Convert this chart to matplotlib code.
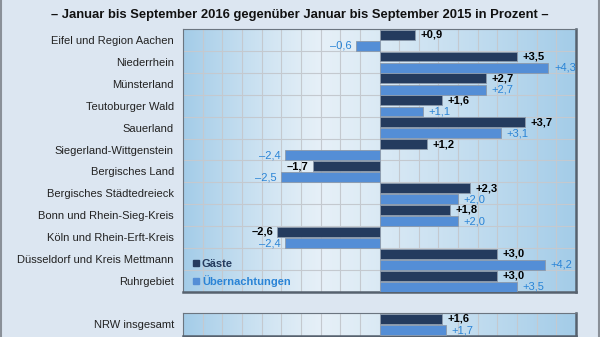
import numpy as np
import matplotlib
matplotlib.use("Agg")
import matplotlib.pyplot as plt
from matplotlib.lines import Line2D

# Daten: Veränderung in % (Jan-Sep 2016 ggü. Jan-Sep 2015)
regionen = ["Eifel und Region Aachen", "Niederrhein", "Münsterland", "Teutoburger Wald",
            "Sauerland", "Siegerland-Wittgenstein", "Bergisches Land",
            "Bergisches Städtedreieck", "Bonn und Rhein-Sieg-Kreis",
            "Köln und Rhein-Erft-Kreis", "Düsseldorf und Kreis Mettmann", "Ruhrgebiet"]
gaeste = [0.9, 3.5, 2.7, 1.6, 3.7, 1.2, -1.7, 2.3, 1.8, -2.6, 3.0, 3.0]
uebernachtungen = [-0.6, 4.3, 2.7, 1.1, 3.1, -2.4, -2.5, 2.0, 2.0, -2.4, 4.2, 3.5]

nrw_regionen = ["NRW insgesamt"]
nrw_gaeste = [1.6]
nrw_uebernachtungen = [1.7]

serien = ["Gäste", "Übernachtungen"]
titel = "– Januar bis September 2016 gegenüber Januar bis September 2015 in Prozent –"

plt.rcParams['font.family'] = ['Liberation Sans', 'DejaVu Sans']

dunkel = "#243b5e"
hell = "#548ed6"
hell_text = "#2a84d6"
rand = "#8c9aab"
hg = "#dce6f1"


def fmt(v):
    s = f"{abs(v):.1f}".replace(".", ",")
    return ("+" if v >= 0 else "–") + s


def hintergrund(ax, y0, y1):
    # Verlauf: hell in der Mitte, blau an den Rändern
    xs = np.linspace(-5, 5, 400)
    xc = -1.5
    t = np.where(xs < xc, (xc - xs) / (xc + 5), (xs - xc) / (5 - xc))
    t = np.clip(t, 0, 1) ** 1.2
    mitte = np.array([0.90, 0.94, 0.97])
    aussen = np.array([0.64, 0.80, 0.91])
    img = mitte[None, None, :] * (1 - t[None, :, None]) + aussen[None, None, :] * t[None, :, None]
    ax.imshow(img, extent=(-5, 5, y0, y1), aspect='auto', zorder=0, interpolation='bilinear')


def zeichne(ax, namen, g, u):
    n = len(namen)
    y = np.arange(n)
    hintergrund(ax, n - 0.5, -0.5)
    ax.barh(y - 0.245, g, height=0.45, color=dunkel, edgecolor=rand, linewidth=0.6, zorder=3)
    ax.barh(y + 0.265, u, height=0.45, color=hell, edgecolor=rand, linewidth=0.6, zorder=3)
    for yi, v in zip(y, g):
        ax.annotate(fmt(v), (v, yi - 0.245), xytext=(4 if v >= 0 else -3, 0),
                    textcoords='offset points', ha='left' if v >= 0 else 'right',
                    va='center', fontsize=8, fontweight='bold', color='black', zorder=4)
    for yi, v in zip(y, u):
        ax.annotate(fmt(v), (v, yi + 0.265), xytext=(4 if v >= 0 else -3, 0),
                    textcoords='offset points', ha='left' if v >= 0 else 'right',
                    va='center', fontsize=8, color=hell_text, zorder=4)
    ax.set_xlim(-5, 5)
    ax.set_ylim(n - 0.5, -0.5)
    ax.set_xticks(np.arange(-5, 5.01, 0.5))
    ax.set_yticks(y, namen, fontsize=8)
    ax.set_yticks(np.arange(-0.5, n, 1), minor=True)
    ax.tick_params(axis='x', length=0, labelbottom=False)
    ax.tick_params(axis='y', which='both', length=0, pad=6.5, labelcolor='#222222')
    ax.grid(axis='x', color='#c4c9cf', linewidth=0.8)
    ax.grid(axis='y', which='minor', color='#c4c9cf', linewidth=0.8)
    for s in ['top', 'left']:
        ax.spines[s].set_color('#6b7580')
        ax.spines[s].set_linewidth(0.8)
    for s in ['right', 'bottom']:
        ax.spines[s].set_color('#56616e')
        ax.spines[s].set_linewidth(1.8)


fig = plt.figure(figsize=(6, 3.37), dpi=100, facecolor=hg)

ax = fig.add_axes([0.305, 0.1335, 0.655, 0.7805])
zeichne(ax, regionen, gaeste, uebernachtungen)

handles = [Line2D([], [], marker='s', linestyle='none', markersize=4, color=dunkel),
           Line2D([], [], marker='s', linestyle='none', markersize=4, color=hell)]
ax.legend(handles, serien, loc='lower left', bbox_to_anchor=(0.024, 0.02),
          frameon=False, handlelength=0.6, handletextpad=0.25, labelspacing=0.5,
          borderpad=0, borderaxespad=0, prop={'weight': 'bold', 'size': 8},
          labelcolor=[dunkel, hell_text])

ax2 = fig.add_axes([0.305, 0.004, 0.655, 0.0675])
zeichne(ax2, nrw_regionen, nrw_gaeste, nrw_uebernachtungen)

fig.text(0.5, 1 - 15 / 337, titel, ha='center', va='center', fontsize=9.4,
         fontweight='bold', color='#111111')

# seitliche Rahmenlinien
fig.add_artist(Line2D([0.0015, 0.0015], [0, 1], transform=fig.transFigure, color='#8a9098', lw=1.5))
fig.add_artist(Line2D([0.9985, 0.9985], [0, 1], transform=fig.transFigure, color='#8a9098', lw=1.5))

fig.savefig("out.png", dpi=100, facecolor=hg)
